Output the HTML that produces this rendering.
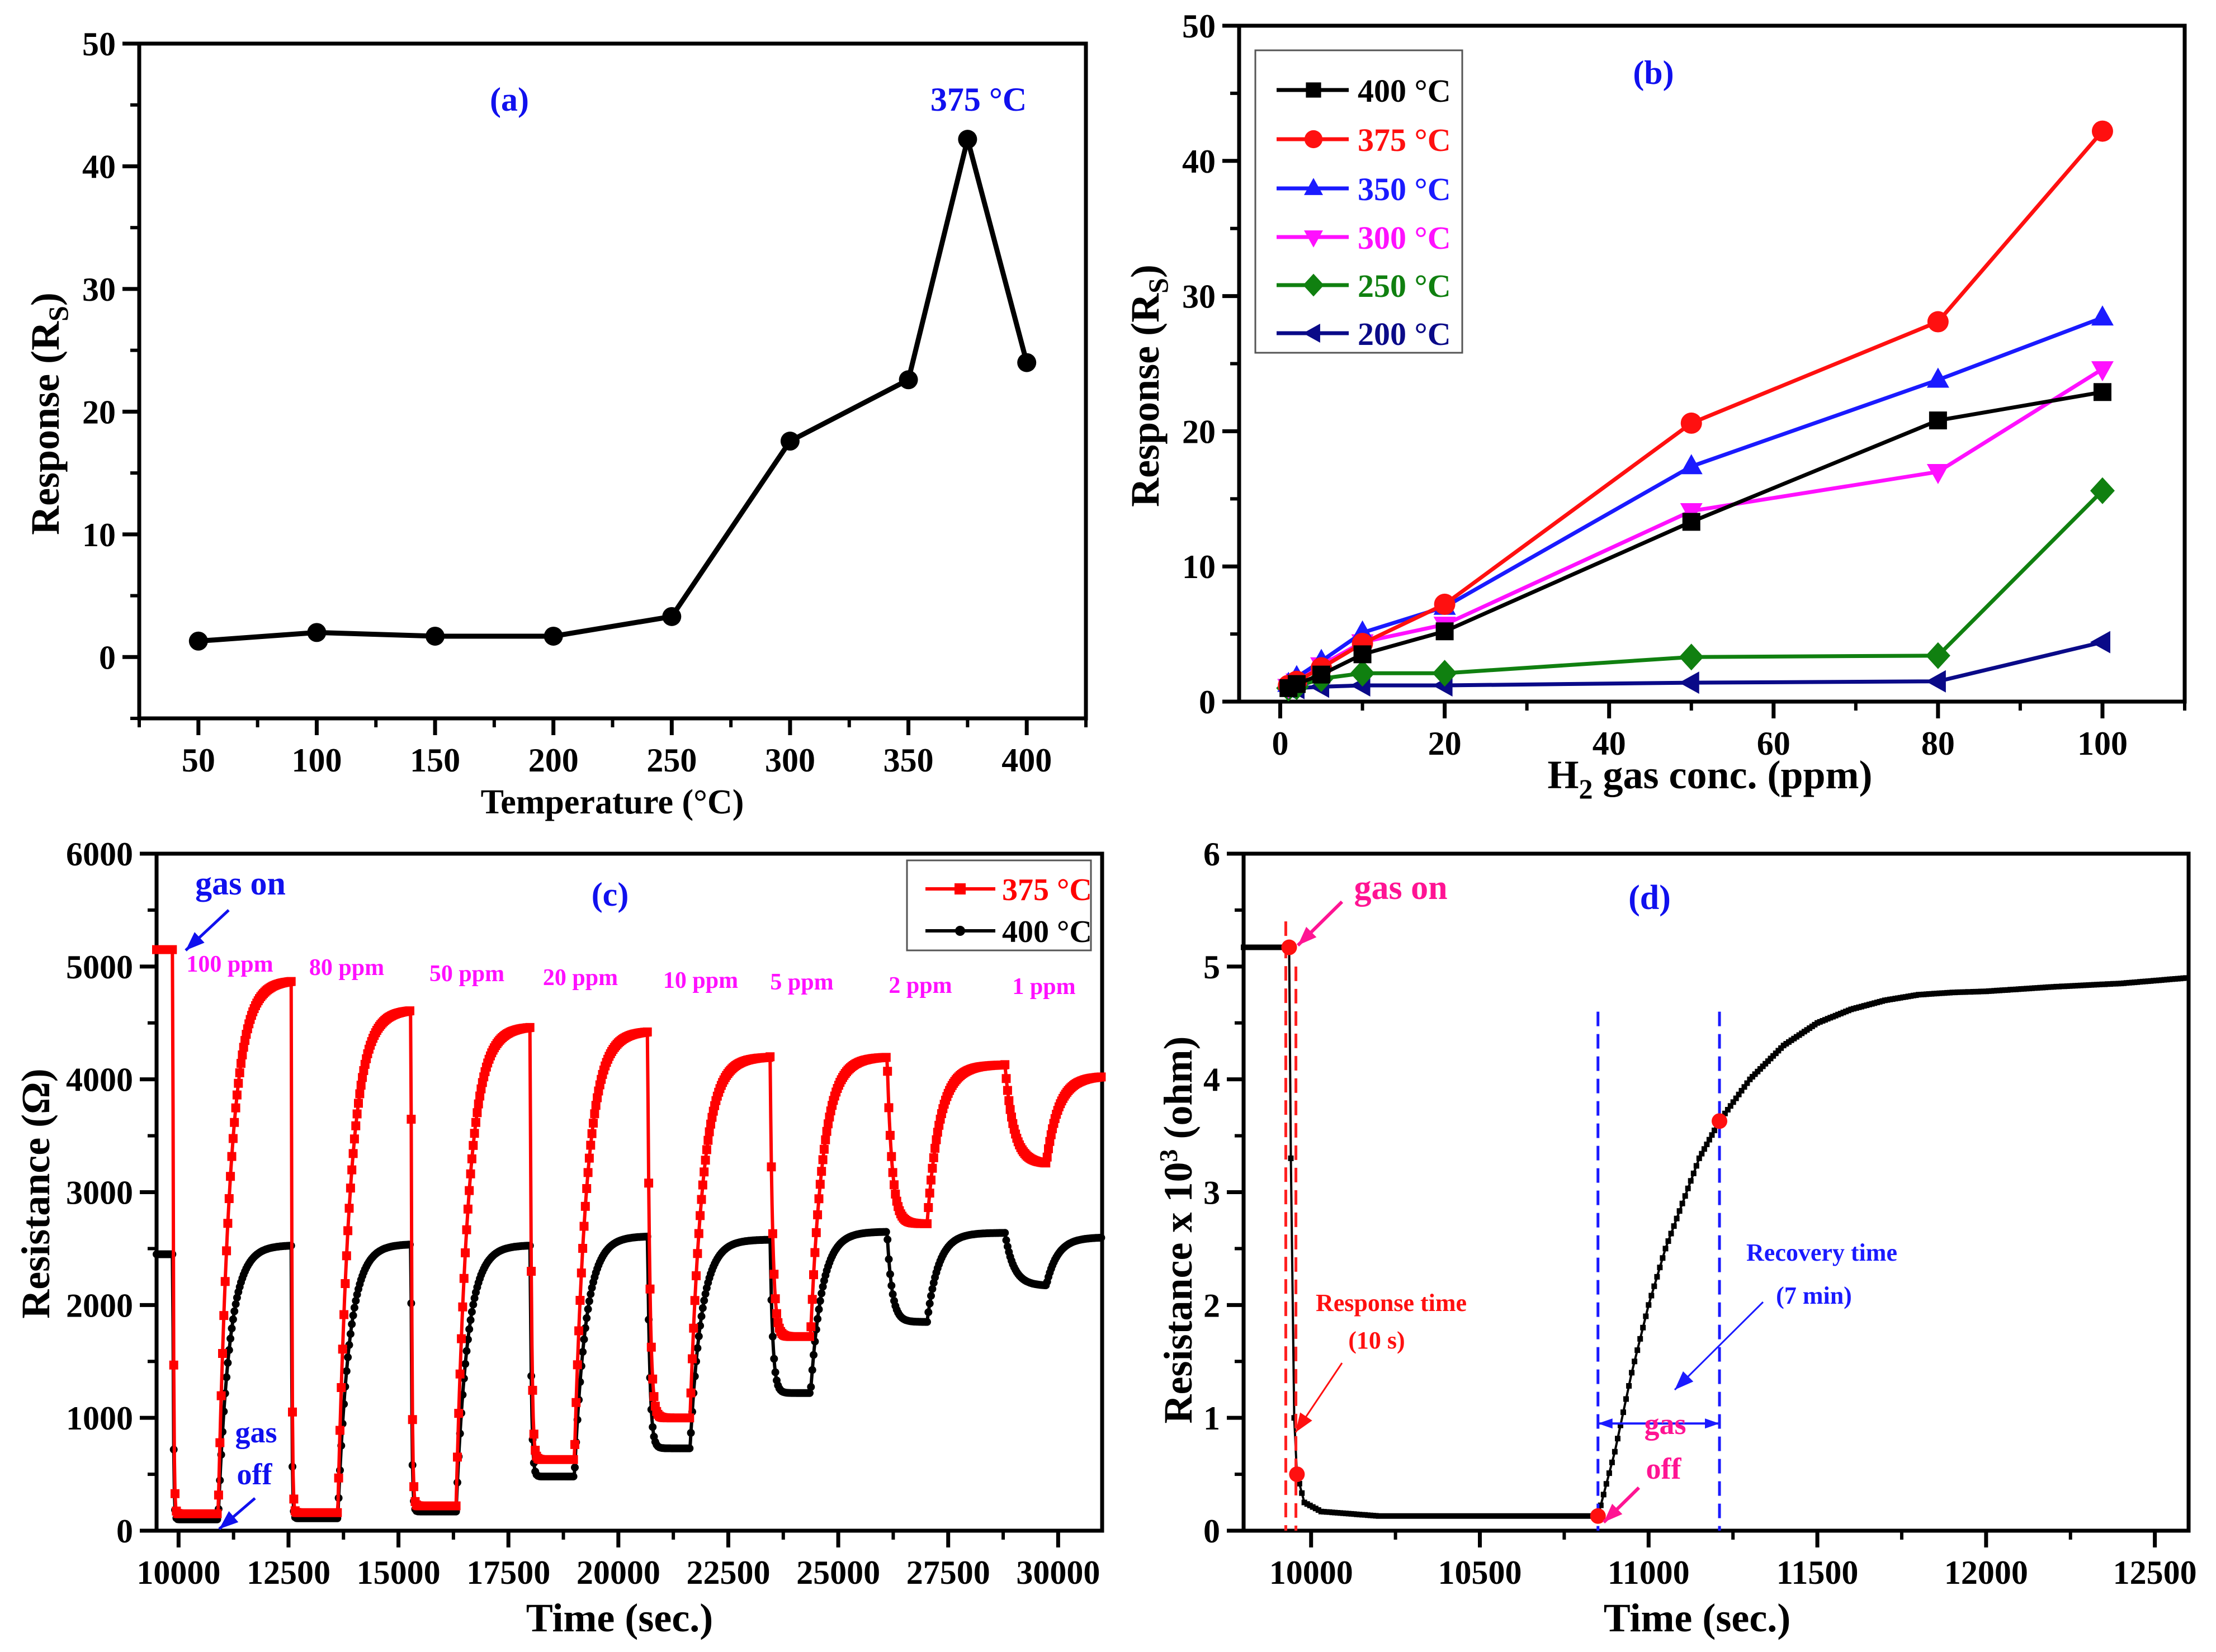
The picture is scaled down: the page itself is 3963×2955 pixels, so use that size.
<!DOCTYPE html>
<html><head><meta charset="utf-8">
<style>
html,body{margin:0;padding:0;background:#fff;}
svg{display:block;font-family:"Liberation Serif","Times New Roman",serif;font-weight:bold;}
</style></head>
<body>
<svg id="fig" xmlns="http://www.w3.org/2000/svg" width="3963" height="2955" viewBox="0 0 3963 2955">
<rect width="3963" height="2955" fill="#fff"/>
</svg>
<script>
// ---------- Panel (a) data ----------
const aTemps = [50,100,150,200,250,300,350,375,400];
const aResp  = [1.3,2.0,1.7,1.7,3.3,17.6,22.6,42.2,24.0];
const aXTicks = [50,100,150,200,250,300,350,400];
const aYTicks = [0,10,20,30,40,50];

// ---------- Panel (b) data ----------
const bConc = [1,2,5,10,20,50,80,100];
const b400 = [1.0,1.3,2.0,3.5,5.2,13.3,20.8,22.9];
const b375 = [1.2,1.5,2.5,4.3,7.2,20.6,28.1,42.2];
const b350 = [1.3,1.8,3.0,5.1,7.0,17.4,23.8,28.4];
const b300 = [1.1,1.5,2.7,4.4,5.7,14.1,17.0,24.6];
const b250 = [1.0,1.1,1.7,2.1,2.1,3.3,3.4,15.6];
const b200 = [1.0,1.0,1.1,1.2,1.2,1.4,1.5,4.4];
const bLabels = ['400 °C','375 °C','350 °C','300 °C','250 °C','200 °C'];
const bXTicks = [0,20,40,60,80,100];
const bYTicks = [0,10,20,30,40,50];

// ---------- Panel (c) data ----------
const cOnTimes  = [9870,12565,15285,17995,20665,23450,26110,28790];
const cOffTimes = [10900,13620,16310,19000,21630,24370,27020,29730];
const cRedTop   = [5150,4880,4620,4470,4430,4200,4200,4130];
const cRedLow   = [150,160,220,630,1000,1720,2720,3250];
const cRedEnd   = [4030];
const cBlackTop = [2450,2530,2540,2530,2610,2580,2650,2640];
const cBlackLow = [100,110,170,480,730,1220,1850,2170];
const cBlackEnd = [2600];
const cPpm = ['100 ppm','80 ppm','50 ppm','20 ppm','10 ppm','5 ppm','2 ppm','1 ppm'];
const cXTicks = [10000,12500,15000,17500,20000,22500,25000,27500,30000];
const cYTicks = [0,1000,2000,3000,4000,5000,6000];

// ---------- Panel (d) data ----------
const dTime = [9800,9935,9940,9950,9958,9980,10030,10200,10850,10900,10950,11000,11050,11100,11150,11210,11300,11400,11500,11600,11700,11800,11900,12000,12200,12400,12600];
const dRes  = [5.17,5.17,3.3,1.0,0.5,0.25,0.17,0.13,0.13,0.7,1.4,2.0,2.5,2.9,3.3,3.63,4.0,4.3,4.5,4.62,4.7,4.75,4.77,4.78,4.82,4.85,4.9];
const dMarkT = [9935,9958,10850,11210];
const dMarkV = [5.17,0.5,0.13,3.63];
const dXTicks = [10000,10500,11000,11500,12000,12500];
const dYTicks = [0,1,2,3,4,5,6];

const NS='http://www.w3.org/2000/svg';
const svg=document.getElementById('fig');
function el(tag,attrs,parent){const e=document.createElementNS(NS,tag);for(const k in attrs)e.setAttribute(k,attrs[k]);(parent||svg).appendChild(e);return e;}
function scale(d0,d1,r0,r1){return v=>r0+(v-d0)*(r1-r0)/(d1-d0);}

function axes(p,name,xt,yt,xminor,yminor){
  const g=el('g',{});
  
  
  el('rect',{x:p.l,y:p.t,width:p.r-p.l,height:p.b-p.t,fill:'none',stroke:'#000','stroke-width':7},g);
  xt.forEach(v=>{const x=p.X(v);el('line',{x1:x,y1:p.b,x2:x,y2:p.b+30,stroke:'#000','stroke-width':7},g);
    const t=el('text',{x:x,y:p.b+95,'text-anchor':'middle','font-size':60},g);t.textContent=v;
    });
  xminor.forEach(v=>{const x=p.X(v);el('line',{x1:x,y1:p.b,x2:x,y2:p.b+16,stroke:'#000','stroke-width':6},g);});
  yt.forEach(v=>{const y=p.Y(v);el('line',{x1:p.l,y1:y,x2:p.l-30,y2:y,stroke:'#000','stroke-width':7},g);
    const t=el('text',{x:p.l-42,y:y+21,'text-anchor':'end','font-size':60},g);t.textContent=v;
    });
  yminor.forEach(v=>{const y=p.Y(v);el('line',{x1:p.l,y1:y,x2:p.l-16,y2:y,stroke:'#000','stroke-width':6},g);});
  return g;
}
function rng(a,b,s){const r=[];for(let v=a;v<=b+1e-9;v+=s)r.push(+v.toFixed(6));return r;}
function txt(x,y,s,size,fill,name,anchor,parent){const t=el('text',{x:x,y:y,'font-size':size,fill:fill||'#000','text-anchor':anchor||'middle'},parent);t.textContent=s;
  return t;}
function arrow(x1,y1,x2,y2,col,w,name){
  const g=el('g',{});
  el('line',{x1:x1,y1:y1,x2:x2,y2:y2,stroke:col,'stroke-width':w},g);
  const a=Math.atan2(y2-y1,x2-x1),L=34,W=13;
  const bx=x2-L*Math.cos(a),by=y2-L*Math.sin(a);
  el('polygon',{points:`${x2},${y2} ${bx+W*Math.sin(a)},${by-W*Math.cos(a)} ${bx-W*Math.sin(a)},${by+W*Math.cos(a)}`,fill:col},g);
}

// ================= Panel (a) =================
const pa={l:249,r:1942,t:78,b:1285};
pa.X=scale(25,425,pa.l,pa.r);pa.Y=scale(-5,50,pa.b,pa.t);
axes(pa,'panel-a',aXTicks,aYTicks,rng(25,425,25).filter(v=>!aXTicks.includes(v)),rng(-5,50,5).filter(v=>!aYTicks.includes(v)));
{
 const g=el('g',{});
 el('polyline',{points:aTemps.map((t,i)=>pa.X(t)+','+pa.Y(aResp[i])).join(' '),fill:'none',stroke:'#000','stroke-width':9},g);
 aTemps.forEach((t,i)=>{const c=el('circle',{cx:pa.X(t),cy:pa.Y(aResp[i]),r:17,fill:'#000'},g);
   });
}
txt(911,198,'(a)',60,'#1010ee','panel-a-label');
txt(1750,198,'375 °C',60,'#1010ee','peak-annotation');
txt(1095,1455,'Temperature (°C)',62,'#000','x-axis-title');
{const t=el('text',{x:0,y:0,'font-size':72,'text-anchor':'middle',transform:'translate(105,740) rotate(-90)'});
 
 t.innerHTML='Response (R<tspan dy="16" font-size="50">S</tspan><tspan dy="-16">)</tspan>';}

// ================= Panel (b) =================
const pb={l:2216,r:3907,t:46,b:1255};
pb.X=scale(-5,110,pb.l,pb.r);pb.Y=scale(0,50,pb.b,pb.t);
axes(pb,'panel-b',bXTicks,bYTicks,rng(10,110,20),rng(5,45,10));
function marker(shape,x,y,col,parent,s){
  s=s||20;let e;
  if(shape==='square')e=el('rect',{x:x-s*0.8,y:y-s*0.8,width:s*1.6,height:s*1.6,fill:col},parent);
  else if(shape==='circle')e=el('circle',{cx:x,cy:y,r:s*0.95,fill:col},parent);
  else if(shape==='up')e=el('polygon',{points:`${x},${y-s*1.1} ${x+s},${y+s*0.7} ${x-s},${y+s*0.7}`,fill:col},parent);
  else if(shape==='down')e=el('polygon',{points:`${x},${y+s*1.1} ${x+s},${y-s*0.7} ${x-s},${y-s*0.7}`,fill:col},parent);
  else if(shape==='diamond')e=el('polygon',{points:`${x},${y-s*1.2} ${x+s*1.1},${y} ${x},${y+s*1.2} ${x-s*1.1},${y}`,fill:col},parent);
  else e=el('polygon',{points:`${x-s*1.1},${y} ${x+s*0.7},${y-s} ${x+s*0.7},${y+s}`,fill:col},parent);
  return e;
}
const bSeries=[[b400,'#000','square'],[b375,'#ff1010','circle'],[b350,'#1a1aff','up'],[b300,'#ff10ff','down'],[b250,'#108010','diamond'],[b200,'#0a0a88','left']];
bSeries.slice().reverse().forEach(([vals,col,shape],ri)=>{
  const idx=bSeries.length-1-ri;
  const g=el('g',{});
  el('polyline',{points:bConc.map((c,i)=>pb.X(c)+','+pb.Y(vals[i])).join(' '),fill:'none',stroke:col,'stroke-width':7},g);
  bConc.forEach((c,i)=>{const m=marker(shape,pb.X(c),pb.Y(vals[i]),col,g);
    });
});
{
 const g=el('g',{});
 el('rect',{x:2245,y:90,width:370,height:541,fill:'#fff',stroke:'#555','stroke-width':3},g);
 const rows=[161,249,337,424,510,596];
 bSeries.forEach(([v,col,shape],i)=>{
   const eg=el('g',{},g);
   el('line',{x1:2283,y1:rows[i],x2:2412,y2:rows[i],stroke:col,'stroke-width':7},eg);
   marker(shape,2349,rows[i],col,eg,17);
   txt(2428,rows[i]+21,bLabels[i],58,col,'legend-label','start',eg);
 });
}
txt(2957,150,'(b)',60,'#1010ee','panel-b-label');
{const t=el('text',{x:3058,y:1410,'font-size':72,'text-anchor':'middle'});
 
 t.innerHTML='H<tspan dy="18" font-size="50">2</tspan><tspan dy="-18"> gas conc. (ppm)</tspan>';}
{const t=el('text',{x:0,y:0,'font-size':72,'text-anchor':'middle',transform:'translate(2072,690) rotate(-90)'});
 
 t.innerHTML='Response (R<tspan dy="16" font-size="50">S</tspan><tspan dy="-16">)</tspan>';}

// ================= Panel (c) =================
const pc={l:280,r:1971,t:1527,b:2738};
pc.X=scale(9500,31000,pc.l,pc.r);pc.Y=scale(0,6000,pc.b,pc.t);
axes(pc,'panel-c',cXTicks,cYTicks,rng(11250,31000,2500),rng(500,5500,1000));
const tauDrop=[15,15,20,30,50,60,110,200];
function cValue(t,top,low,end,tauR){
  if(t<cOnTimes[0])return top[0];
  for(let i=0;i<cOnTimes.length;i++){
    const on=cOnTimes[i],off=cOffTimes[i],next=(i+1<cOnTimes.length)?cOnTimes[i+1]:1e9;
    const target=(i+1<top.length)?top[i+1]:end[0];
    if(t>=on&&t<off)return low[i]+(top[i]-low[i])*Math.exp(-(t-on)/tauDrop[i]);
    if(t>=off&&t<next){const v0=low[i]+(top[i]-low[i])*Math.exp(-(off-on)/tauDrop[i]);
      return target-(target-v0)*Math.exp(-(t-off)/tauR);}
  }
  return end[0];
}
function drawC(top,low,end,col,shape,name,tauR,start){
  const g=el('g',{});
  const pts=[];
  for(let t=start;t<=31000;t+=15){
    pts.push([t,cValue(t,top,low,end,tauR)]);
  }
  el('polyline',{points:pts.map(p=>pc.X(p[0]).toFixed(1)+','+pc.Y(p[1]).toFixed(1)).join(' '),fill:'none',stroke:col,'stroke-width':6},g);
  let d='';
  pts.forEach((p,i)=>{if(i%2)return;const x=pc.X(p[0]),y=pc.Y(p[1]);
    if(shape==='sq')d+=`M${(x-8).toFixed(1)},${(y-8).toFixed(1)}h16v16h-16z`;
    else d+=`M${(x-7).toFixed(1)},${y.toFixed(1)}a7,7 0 1,0 14,0a7,7 0 1,0 -14,0z`;});
  el('path',{d:d,fill:col},g);
}
drawC(cBlackTop,cBlackLow,cBlackEnd,'#000','ci','series-400c',260,9500);
drawC(cRedTop,cRedLow,cRedEnd,'#ff0000','sq','series-375c',280,9500);
{
 const g=el('g',{});
 el('rect',{x:1622,y:1539,width:329,height:161,fill:'#fff',stroke:'#555','stroke-width':3},g);
 const e1=el('g',{},g);
 el('line',{x1:1655,y1:1590,x2:1780,y2:1590,stroke:'#f00','stroke-width':6},e1);
 el('rect',{x:1707,y:1580,width:20,height:20,fill:'#f00'},e1);
 txt(1792,1610,'375 °C',56,'#f00','legend-label','start',e1);
 const e2=el('g',{},g);
 el('line',{x1:1655,y1:1665,x2:1780,y2:1665,stroke:'#000','stroke-width':6},e2);
 el('circle',{cx:1717,cy:1665,r:9,fill:'#000'},e2);
 txt(1792,1685,'400 °C',56,'#000','legend-label','start',e2);
}
txt(1091,1620,'(c)',60,'#1010ee','panel-c-label');
txt(430,1600,'gas on',60,'#1010ee','gas-on-label');
arrow(409,1628,332,1700,'#1010ee',5,'gas-on-arrow');
const ppmX=[411,620,835,1038,1253,1434,1646,1867];
const ppmY=[1738,1744,1755,1762,1767,1770,1776,1778];
cPpm.forEach((s,i)=>txt(ppmX[i],ppmY[i],s,42,'#ff10ff','ppm-label'));
txt(458,2580,'gas',54,'#1010ee','gas-off-label');
txt(455,2655,'off',54,'#1010ee','gas-off-label');
arrow(456,2680,392,2735,'#1010ee',5,'gas-off-arrow');
txt(1108,2918,'Time (sec.)',72,'#000','x-axis-title');
{const t=el('text',{x:0,y:0,'font-size':72,'text-anchor':'middle',transform:'translate(88,2135) rotate(-90)'});
 t.textContent='Resistance (Ω)';}

// ================= Panel (d) =================
const pd={l:2224,r:3914,t:1527,b:2738};
pd.X=scale(9800,12600,pd.l,pd.r);pd.Y=scale(0,6,pd.b,pd.t);
axes(pd,'panel-d',dXTicks,dYTicks,rng(9750,12600,500).filter(v=>v>9800),rng(0.5,5.5,1));
{
 const g=el('g',{});
 el('polyline',{points:dTime.map((t,i)=>pd.X(t)+','+pd.Y(dRes[i])).join(' '),fill:'none',stroke:'#000','stroke-width':4},g);
 let d='';
 for(let i=0;i<dTime.length-1;i++){
   const t0=dTime[i],t1=dTime[i+1],n=Math.max(1,Math.round((t1-t0)/8));
   for(let k=0;k<n;k++){const t=t0+(t1-t0)*k/n,v=dRes[i]+(dRes[i+1]-dRes[i])*k/n;
     const x=pd.X(t),y=pd.Y(v);d+=`M${(x-5).toFixed(1)},${(y-5).toFixed(1)}h10v10h-10z`;}
 }
 el('path',{d:d,fill:'#000'},g);
}
function vdash(t,v0,v1,col,name){const l=el('line',{x1:pd.X(t),y1:pd.Y(v0),x2:pd.X(t),y2:pd.Y(v1),stroke:col,'stroke-width':5,'stroke-dasharray':'26,14'});
 }
vdash(9925,5.4,0,'#ff2020','response-start-line');
vdash(9955,5.0,0,'#ff2020','response-end-line');
vdash(10850,4.6,0,'#1a1aff','recovery-start-line');
vdash(11210,4.6,0,'#1a1aff','recovery-end-line');
dMarkT.forEach((t,i)=>{const c=el('circle',{cx:pd.X(t),cy:pd.Y(dMarkV[i]),r:14,fill:'#ff1010'});
 });
{
 const g=el('g',{});
 const x0=pd.X(10850),x1=pd.X(11210),y=pd.Y(0.95);
 el('line',{x1:x0,y1:y,x2:x1,y2:y,stroke:'#1a1aff','stroke-width':4},g);
 el('polygon',{points:`${x0},${y} ${x0+26},${y-9} ${x0+26},${y+9}`,fill:'#1a1aff'},g);
 el('polygon',{points:`${x1},${y} ${x1-26},${y-9} ${x1-26},${y+9}`,fill:'#1a1aff'},g);
}
txt(2505,1608,'gas on',62,'#ff1493','gas-on-label');
arrow(2400,1613,2321,1691,'#ff1493',6,'gas-on-arrow');
txt(2950,1626,'(d)',62,'#1010ee','panel-d-label');
txt(2488,2345,'Response time',44,'#ff1010','response-time-label');
txt(2462,2412,'(10 s)',44,'#ff1010','response-time-value');
arrow(2400,2438,2317,2562,'#ff1010',3,'response-time-arrow');
txt(3258,2255,'Recovery time',44,'#1a1aff','recovery-time-label');
txt(3244,2332,'(7 min)',44,'#1a1aff','recovery-time-value');
arrow(3153,2329,2995,2486,'#1a1aff',3,'recovery-time-arrow');
txt(2978,2565,'gas',54,'#ff1493','gas-off-label');
txt(2975,2645,'off',54,'#ff1493','gas-off-label');
arrow(2931,2661,2868,2723,'#ff1493',6,'gas-off-arrow');
txt(3035,2918,'Time (sec.)',72,'#000','x-axis-title');
{const t=el('text',{x:0,y:0,'font-size':72,'text-anchor':'middle',transform:'translate(2131,2200) rotate(-90)'});
 
 t.innerHTML='Resistance x 10<tspan dy="-26" font-size="46">3</tspan><tspan dy="26"> (ohm)</tspan>';}
</script>
</body></html>
